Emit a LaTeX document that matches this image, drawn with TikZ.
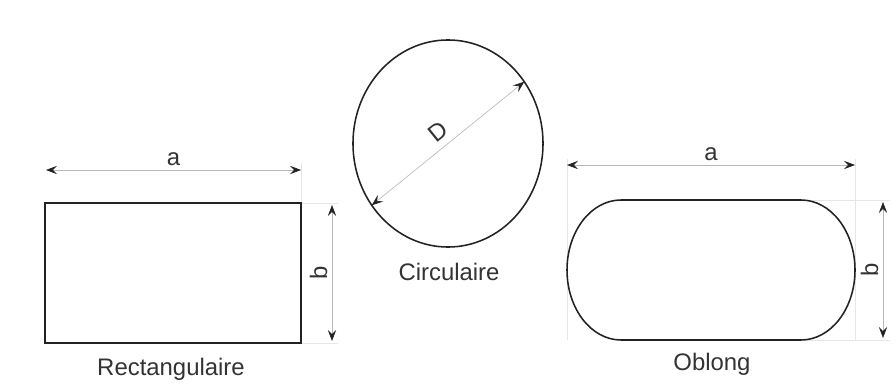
\documentclass[tikz,border=0pt]{standalone}
\usepackage{fontspec}
\setmainfont{Liberation Sans}
\usepackage{tikz}
\usetikzlibrary{arrows.meta,positioning,calc,shapes.geometric}
\definecolor{inkdark}{HTML}{222222}
\definecolor{dimgray}{HTML}{B8B8B8}
\definecolor{extgray}{HTML}{E6E6E6}

\begin{document}
\begin{tikzpicture}[x=0.025cm,y=0.025cm,
 >={Stealth[length=2.8mm,width=2.1mm,inset=1.1mm,color=inkdark]},
 outline/.style={draw=inkdark,line width=1.1pt},
 dim/.style={draw=dimgray,line width=0.45pt,<->},
 ext/.style={draw=extgray,line width=0.4pt},
 lbl/.style={text=black!80,font=\fontsize{17}{20}\selectfont,inner sep=3pt},
 disk/.style={ellipse,outline,minimum width=4.75cm,minimum height=5.175cm,inner sep=0pt,outer sep=0pt}]
\useasboundingbox (0,0) rectangle (894,383);
% rectangulaire
\coordinate (rsw) at (45,40);
\coordinate (rne) at (301,180);
\coordinate (ra1) at (46,213);
\coordinate (ra2) at (301,213);
\coordinate (rb1) at (332,178);
\coordinate (rb2) at (332,42);
\draw[ext] (rne) -- (301,220);
\draw[ext] (rne) -- (338,180);
\draw[ext] (301,40) -- (338,40);
\draw[outline] (rsw) rectangle (rne);
\draw[dim] (ra1) -- (ra2) node[lbl,midway,above] (ra) {a};
\draw[dim] (rb1) -- (rb2) node[lbl,midway,rotate=90,anchor=south] (rb) {b};
\node[lbl,anchor=base] (rname) at (171,8) {Rectangulaire};
% circulaire
\node[disk] (circ) at (448,239.5) {};
\draw[dim] (circ.219) -- (circ.39) node[lbl,midway,sloped,above,inner sep=5pt] (D) {D};
\node[lbl,anchor=base] (cname) at (449,103) {Circulaire};
% oblong
\coordinate (oa1) at (567,218);
\coordinate (oa2) at (855,218);
\coordinate (ob1) at (883,181);
\coordinate (ob2) at (883,45);
\draw[ext] (567,43) -- (567,224);
\draw[ext] (855,43) -- (855,224);
\draw[ext] (800,183) -- (890,183);
\draw[ext] (805,43) -- (890,43);
\draw[outline] (621,183) -- (801,183) arc[start angle=90,end angle=-90,x radius=54,y radius=70]
 -- (621,43) arc[start angle=270,end angle=90,x radius=54,y radius=70] -- cycle;
\draw[dim] (oa1) -- (oa2) node[lbl,midway,above] (oa) {a};
\draw[dim] (ob1) -- (ob2) node[lbl,midway,rotate=90,anchor=south] (ob) {b};
\node[lbl,anchor=base] (oname) at (712,13) {Oblong};
\end{tikzpicture}
\end{document}
